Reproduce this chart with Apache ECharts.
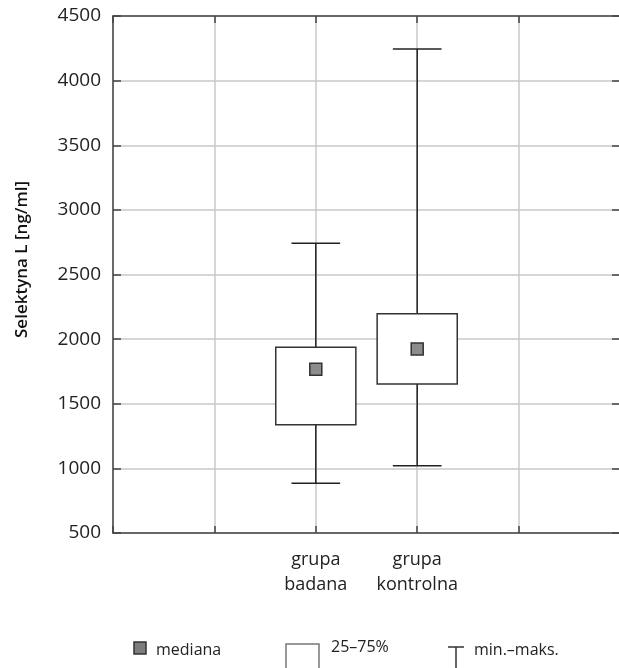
<!DOCTYPE html>
<html>
<head>
<meta charset="utf-8">
<script src="https://cdn.jsdelivr.net/npm/echarts@6/dist/echarts.min.js"></script>
<style>html,body{margin:0;padding:0;background:#fff;}#main{width:619px;height:668px;}</style>
</head>
<body>
<div id="main"></div>
<script>
const categories = ['grupa\nbadana', 'grupa\nkontrolna'];
const minVals = [885, 1020];
const q1Vals = [1338, 1653];
const medianVals = [1767, 1924];
const q3Vals = [1937, 2197];
const maxVals = [2742, 4245];
const yMin = 500, yMax = 4500, yStep = 500;

const FONT = 'Open Sans';
const axisCats = ['', ''].concat(categories, ['', '']);
const offset = 2;
const boxData = categories.map((c, i) => [i + offset, minVals[i], q1Vals[i], medianVals[i], q3Vals[i], maxVals[i]]);
const medData = categories.map((c, i) => [i + offset, medianVals[i]]);

const chart = echarts.init(document.getElementById('main'));
const lineCol = '#444';
const gridCol = '#c8c8c8';

chart.setOption({
  animation: false,
  backgroundColor: '#fff',
  textStyle: { fontFamily: FONT },
  grid: { left: 113, top: 16, width: 507, height: 517, show: false, containLabel: false, outerBoundsMode: 'none' },
  xAxis: [{
    type: 'category', data: axisCats, boundaryGap: false, position: 'bottom',
    axisLine: { show: true, lineStyle: { color: lineCol, width: 1.5 } },
    axisTick: { show: true, inside: true, length: 7, interval: 0, lineStyle: { color: lineCol, width: 1.5 } },
    axisLabel: { interval: 0, fontSize: 18, lineHeight: 25, color: '#222', margin: 14, fontFamily: FONT },
    splitLine: { show: true, interval: 0, lineStyle: { color: gridCol, width: 1.5 } }
  }, {
    type: 'category', data: axisCats, boundaryGap: false, position: 'top',
    axisLine: { show: true, lineStyle: { color: lineCol, width: 1.5 } },
    axisTick: { show: true, inside: true, length: 7, interval: 0, lineStyle: { color: lineCol, width: 1.5 } },
    axisLabel: { show: false }, splitLine: { show: false }
  }],
  yAxis: [{
    type: 'value', min: yMin, max: yMax, interval: yStep, position: 'left',
    name: 'Selektyna L [ng/ml]', nameLocation: 'middle', nameGap: 82,
    nameTextStyle: { fontSize: 17, fontWeight: 600, color: '#111', fontFamily: FONT, padding: [0, 0, 0, 30] },
    axisLine: { show: true, lineStyle: { color: lineCol, width: 1.5 } },
    axisTick: { show: true, inside: true, length: 8, lineStyle: { color: lineCol, width: 1.5 } },
    axisLabel: { fontSize: 19, color: '#222', margin: 12, fontFamily: FONT, formatter: v => String(v) },
    splitLine: { show: true, lineStyle: { color: gridCol, width: 1.5 } }
  }, {
    type: 'value', min: yMin, max: yMax, interval: yStep, position: 'right',
    axisLine: { show: false },
    axisTick: { show: true, inside: true, length: 8, lineStyle: { color: lineCol, width: 1.5 } },
    axisLabel: { show: false }, splitLine: { show: false }
  }],
  series: [{
    type: 'custom',
    xAxisIndex: 0, yAxisIndex: 0,
    data: boxData,
    encode: { x: 0, y: [1, 2, 3, 4, 5] },
    renderItem: function (params, api) {
      const x = api.value(0);
      const band = api.size([1, 0])[0];
      const bw = band * 0.79;
      const cw = band * 0.48;
      const pMin = api.coord([x, api.value(1)]);
      const pQ1 = api.coord([x, api.value(2)]);
      const pQ3 = api.coord([x, api.value(4)]);
      const pMax = api.coord([x, api.value(5)]);
      const cx = pMin[0];
      const ls = { stroke: '#222', lineWidth: 1.5, fill: null };
      return {
        type: 'group',
        children: [
          { type: 'line', shape: { x1: cx, y1: pMax[1], x2: cx, y2: pQ3[1] }, style: ls },
          { type: 'line', shape: { x1: cx - cw / 2, y1: pMax[1], x2: cx + cw / 2, y2: pMax[1] }, style: ls },
          { type: 'line', shape: { x1: cx, y1: pMin[1], x2: cx, y2: pQ1[1] }, style: ls },
          { type: 'line', shape: { x1: cx - cw / 2, y1: pMin[1], x2: cx + cw / 2, y2: pMin[1] }, style: ls },
          { type: 'rect', shape: { x: cx - bw / 2, y: pQ3[1], width: bw, height: pQ1[1] - pQ3[1] },
            style: { fill: '#fff', stroke: '#333', lineWidth: 1.5 } }
        ]
      };
    },
    z: 3
  }, {
    type: 'scatter',
    xAxisIndex: 0, yAxisIndex: 0,
    data: medData,
    symbol: 'rect', symbolSize: 12,
    itemStyle: { color: '#8c8c8c', borderColor: '#333', borderWidth: 1.5, opacity: 1 },
    z: 5
  }],
  graphic: [
    { type: 'rect', shape: { x: 134, y: 642, width: 12, height: 12 },
      style: { fill: '#7d7d7d', stroke: '#333', lineWidth: 1.5 } },
    { type: 'text', x: 156, y: 650, style: { text: 'mediana', font: '16px "Open Sans"', fill: '#222', verticalAlign: 'middle' } },
    { type: 'rect', shape: { x: 286, y: 644, width: 33, height: 40 },
      style: { fill: null, stroke: '#777', lineWidth: 1.5 } },
    { type: 'text', x: 331, y: 647, style: { text: '25–75%', font: '16px "Open Sans"', fill: '#222', verticalAlign: 'middle' } },
    { type: 'line', shape: { x1: 448, y1: 647, x2: 464, y2: 647 }, style: { stroke: '#333', lineWidth: 1.5 } },
    { type: 'line', shape: { x1: 456, y1: 647, x2: 456, y2: 672 }, style: { stroke: '#333', lineWidth: 1.5 } },
    { type: 'text', x: 474, y: 650, style: { text: 'min.–maks.', font: '16px "Open Sans"', fill: '#222', verticalAlign: 'middle' } }
  ]
});
</script>
</body>
</html>
